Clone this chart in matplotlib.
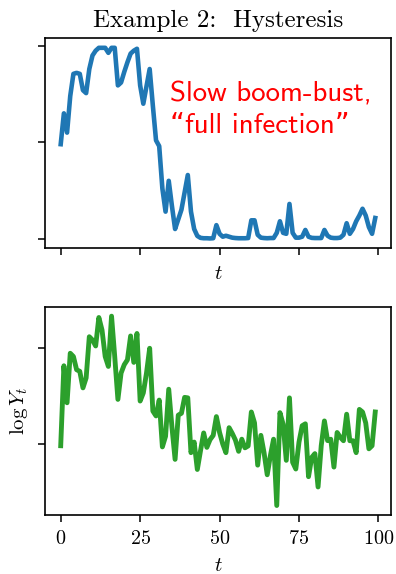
import numpy as np
import matplotlib
matplotlib.use("Agg")
import matplotlib.pyplot as plt

plt.rcParams["font.family"] = ["cmr10", "DejaVu Serif"]
plt.rcParams["mathtext.fontset"] = "cm"
plt.rcParams["axes.formatter.use_mathtext"] = True

# infected fraction over time (boom then bust)
infected = [
    0.49, 0.65, 0.55, 0.74, 0.855, 0.86, 0.855, 0.77, 0.755, 0.88,
    0.95, 0.975, 0.99, 0.99, 0.99, 0.964, 0.99, 0.99, 0.795, 0.81,
    0.865, 0.915, 0.96, 0.975, 0.985, 0.795, 0.70, 0.79, 0.88, 0.69,
    0.51, 0.48, 0.26, 0.14, 0.30, 0.17, 0.05, 0.10, 0.15, 0.24,
    0.33, 0.14, 0.05, 0.014, 0.004, 0.002, 0.002, 0.001, 0.002, 0.07,
    0.025, 0.01, 0.015, 0.01, 0.005, 0.003, 0.002, 0.002, 0.002, 0.003,
    0.095, 0.095, 0.02, 0.005, 0.003, 0.002, 0.003, 0.003, 0.03, 0.09,
    0.03, 0.025, 0.18, 0.03, 0.005, 0.005, 0.01, 0.045, 0.01, 0.004,
    0.003, 0.003, 0.003, 0.045, 0.015, 0.005, 0.003, 0.003, 0.005, 0.02,
    0.08, 0.025, 0.05, 0.09, 0.12, 0.155, 0.12, 0.06, 0.025, 0.107,
]

# log of the observed series
log_y = [
    -1.018, -0.186, -0.571, -0.056, -0.09, -0.227, -0.244, -0.416, -0.313, 0.116,
    0.082, 0.02, 0.316, 0.186, -0.09, -0.193, 0.33, -0.09, -0.536, -0.262,
    -0.175, -0.124, 0.124, -0.151, 0.15, -0.553, -0.468, -0.262, -0.004, -0.657,
    -0.708, -0.543, -1.03, -0.92, -0.43, -0.82, -1.16, -0.70, -0.68, -0.515,
    -0.52, -1.09, -0.98, -1.265, -1.07, -0.885, -1.035, -0.955, -0.91, -0.715,
    -0.88, -1.0, -1.09, -0.83, -0.89, -0.96, -1.076, -0.95, -1.04, -1.02,
    -0.667, -0.78, -1.22, -0.91, -1.09, -1.32, -1.12, -0.95, -1.64, -0.674,
    -0.794, -1.17, -0.52, -1.19, -1.26, -0.98, -0.81, -0.79, -1.34, -1.14,
    -1.10, -1.447, -1.017, -0.76, -0.965, -0.95, -1.24, -0.88, -0.93, -0.966,
    -0.69, -0.966, -0.966, -1.09, -0.64, -0.667, -0.78, -1.05, -1.018, -0.667,
]

t = np.arange(len(infected))
x_ticks = [0, 25, 50, 75, 100]
top_yticks = [0, 0.5, 1]
bottom_yticks = [-1, 0]
note_lines = ["Slow boom-bust,", "\u201cfull infection\u201d"]

fig = plt.figure(figsize=(3.96, 5.74), dpi=100)
ax1 = fig.add_axes([0.1136, 0.568, 0.8737, 0.3653])
ax2 = fig.add_axes([0.1136, 0.1028, 0.8737, 0.3629])

ax1.plot(t, infected, color="#1f77b4", lw=3.3)
ax1.set_title("Example 2:  Hysteresis", fontsize=18, pad=8)
ax1.set_xticks(x_ticks)
ax1.set_xticklabels([])
ax1.set_yticks(top_yticks)
ax1.set_yticklabels([])
ax1.set_xlabel("$t$", fontsize=15, labelpad=4)
for i, line in enumerate(note_lines):
    ax1.text(0.361, 0.698 - i * 0.151, line, transform=ax1.transAxes,
             color="red", fontsize=20.8, family=["cmss10", "DejaVu Sans"],
             ha="left", va="baseline")

ax2.plot(t, log_y, color="#2ca02c", lw=3.5)
ax2.set_xticks(x_ticks)
ax2.tick_params(axis="x", labelsize=14.5, pad=6)
ax2.set_yticks(bottom_yticks)
ax2.set_yticklabels([])
ax2.set_xlabel("$t$", fontsize=15, labelpad=6)
ax2.set_ylabel(r"$\log Y_t$", fontsize=15, labelpad=2)

for ax in (ax1, ax2):
    ax.set_xlim(-4.95, 103.95)
    ax.tick_params(length=5, width=1.1)
    for s in ax.spines.values():
        s.set_linewidth(1.2)

fig.savefig("out.png", dpi=100)
